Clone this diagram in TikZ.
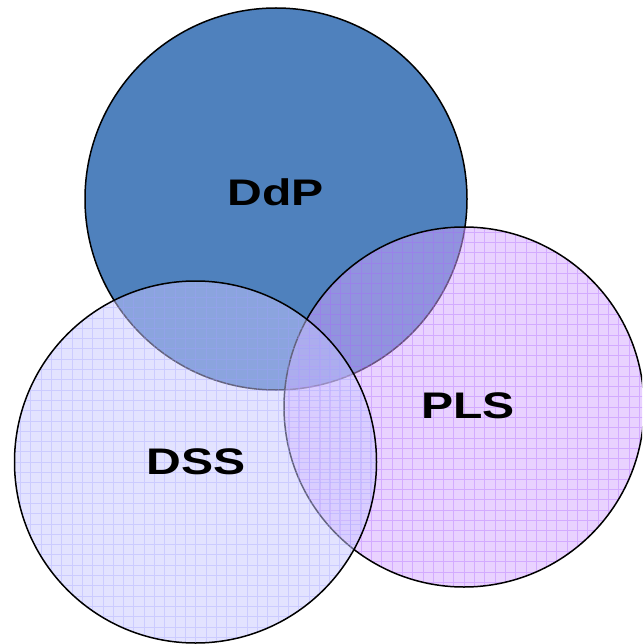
\documentclass[tikz,border=0pt]{standalone}
\usepackage{fontspec}
\setmainfont{Liberation Sans}
\usepackage{graphicx}
\definecolor{ddpblue}{RGB}{79,129,189}
\definecolor{dssfill}{RGB}{200,200,255}
\definecolor{dssgrid}{RGB}{160,160,255}
\definecolor{plsfill}{RGB}{212,165,255}
\definecolor{plsgrid}{RGB}{170,100,255}

% wide bold set names
\newcommand{\setname}[1]{\scalebox{1.3}[1]{\fontsize{37}{40}\selectfont\bfseries #1}}

\begin{document}
\begin{tikzpicture}[x=1pt,y=-1pt,
  set/.style={circle,draw=black,line width=1.5pt,inner sep=0pt},
  gridded/.style={fill=#1fill,fill opacity=0.5,
    path picture={\draw[#1grid,draw opacity=0.35,line width=0.6pt,step=10.3pt]
      (path picture bounding box.south west) grid (path picture bounding box.north east);}},
  lbl/.style={text=black,inner sep=0pt}]
\useasboundingbox (0,0) rectangle (642,644);
\clip (0,0) rectangle (642,644);
% sets, lowest first
\node[set,fill=ddpblue,minimum size=382pt] (ddp) at (276,199) {};
\node[set,gridded=pls,minimum size=360pt] (pls) at (464,407) {};
\node[set,gridded=dss,minimum size=362pt] (dss) at (195.5,462) {};
% names
\node[lbl] (ddplbl) at (275.5,192) {\setname{DdP}};
\node[lbl] (dsslbl) at (196,461.5) {\setname{DSS}};
\node[lbl] (plslbl) at (468,406) {\setname{PLS}};
\end{tikzpicture}
\end{document}
